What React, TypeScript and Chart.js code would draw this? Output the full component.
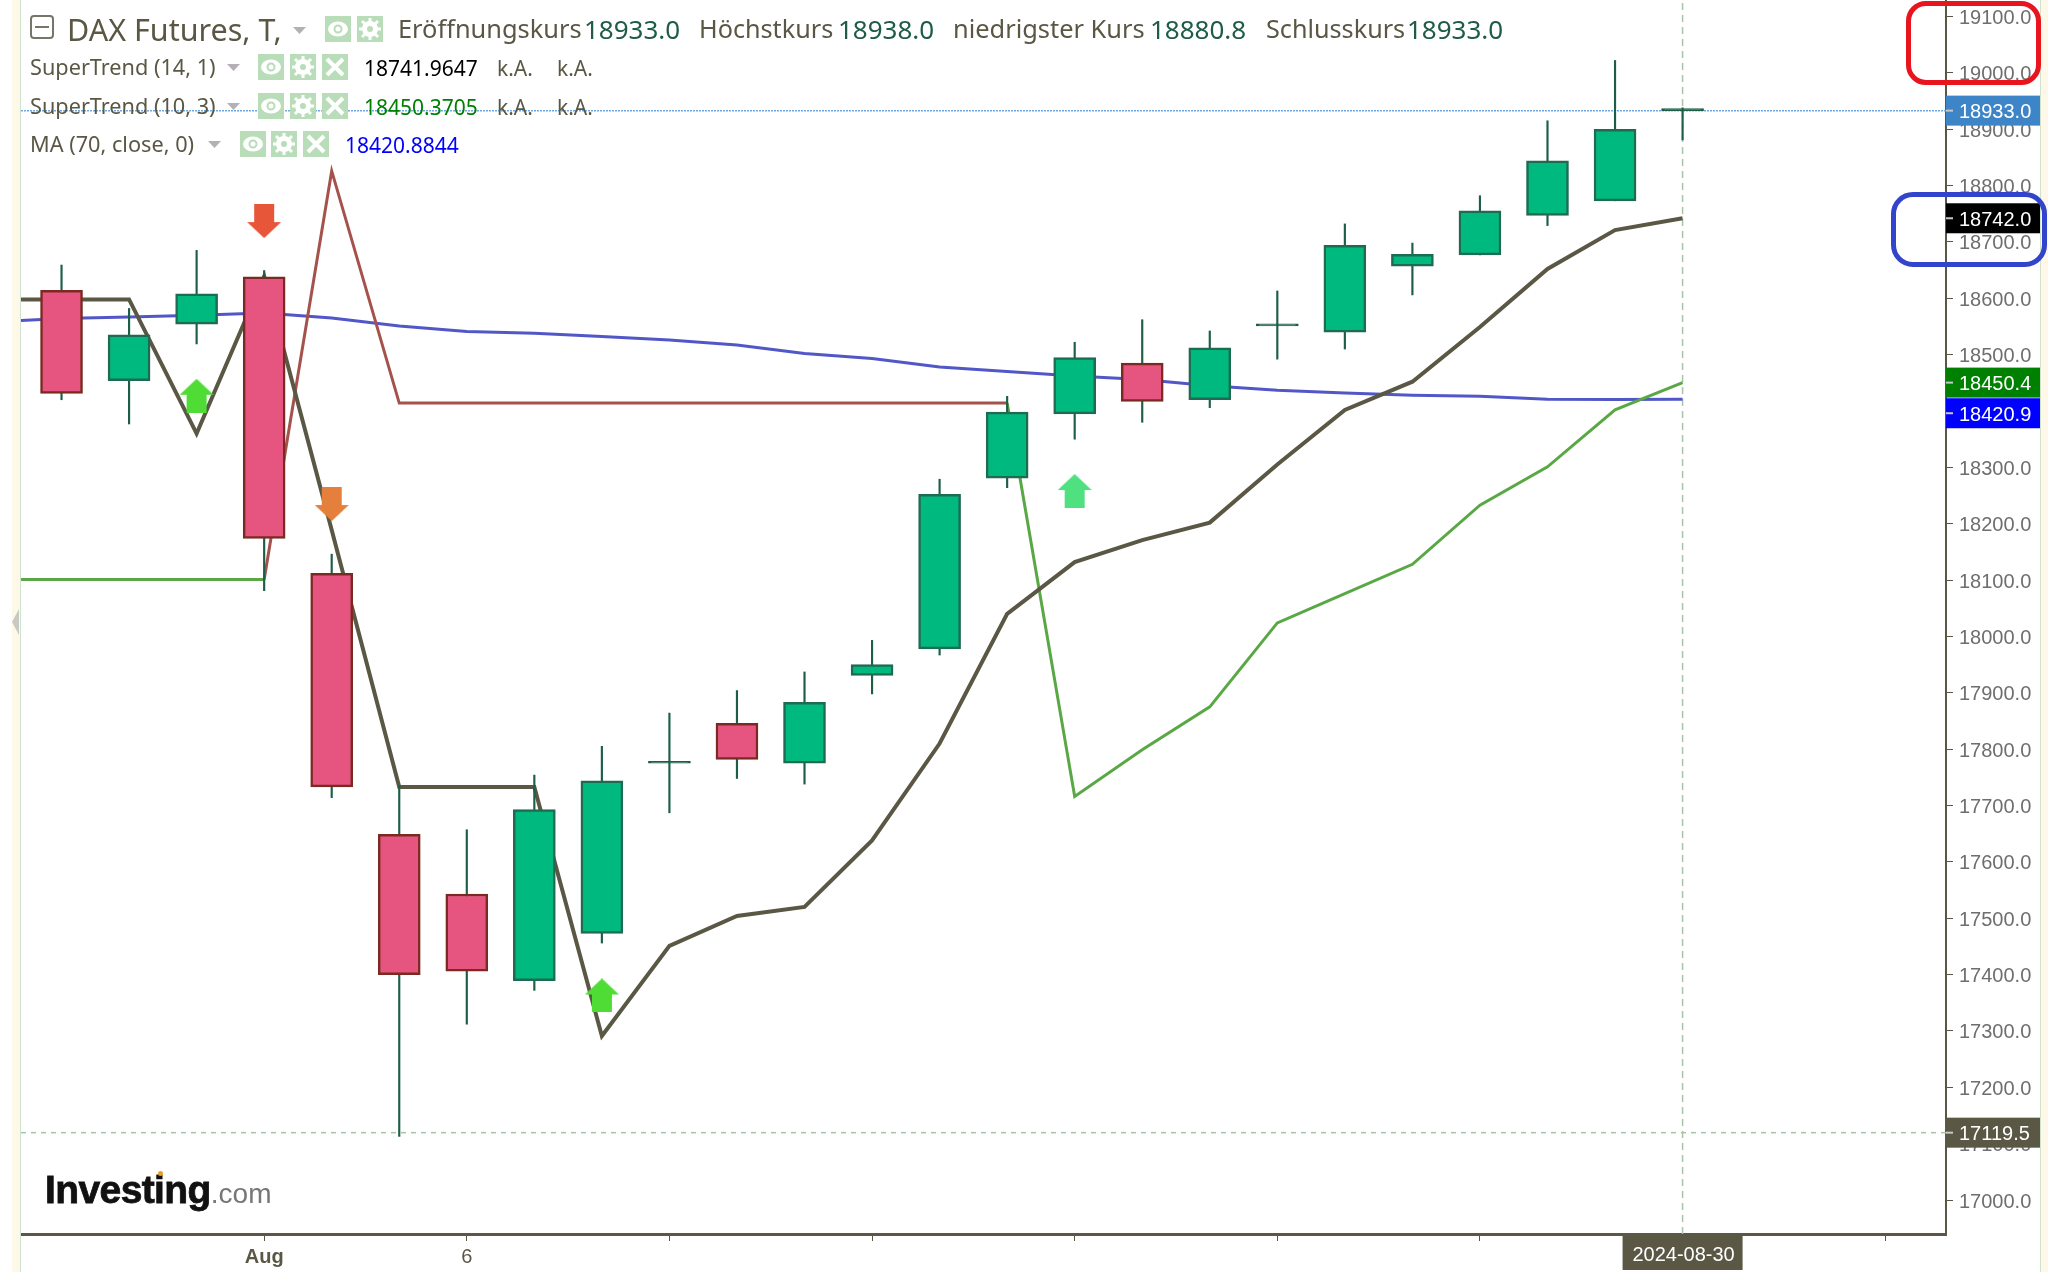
import { useEffect, useRef } from 'react';
import { Chart, registerables } from 'chart.js';

Chart.register(...registerables);

// candles, x = trading day index
const opens = [18614, 18454, 18554, 18638, 18112, 17649, 17543, 17389, 17473, 17775, 17846, 17775, 17931, 17978, 18281, 18395, 18485, 18420, 18551, 18540, 18657, 18677, 18747, 18773, 18933];
const closes = [18431, 18535, 18608, 18174, 17733, 17400, 17406, 17693, 17744, 17777, 17782, 17883, 17950, 18252, 18398, 18495, 18417, 18512, 18552, 18694, 18678, 18755, 18844, 18900, 18933];
const highs = [18659, 18582, 18685, 18649, 18146, 17735, 17657, 17754, 17805, 17864, 17904, 17937, 17993, 18279, 18426, 18522, 18562, 18542, 18613, 18732, 18698, 18782, 18915, 19022, 18938];
const lows = [18420, 18377, 18519, 18081, 17714, 17113, 17312, 17372, 17456, 17687, 17748, 17738, 17898, 17967, 18264, 18350, 18380, 18406, 18492, 18510, 18606, 18677, 18729, 18773, 18881];

// indicator lines start one day before the first candle so they run off the left edge
const lineDays = [-1, 0, 1, 2, 3, 4, 5, 6, 7, 8, 9, 10, 11, 12, 13, 14, 15, 16, 17, 18, 19, 20, 21, 22, 23, 24];
const superTrend141 = [18598, 18598, 18598, 18360, 18639, 18189, 17733, 17733, 17733, 17291, 17451, 17504, 17520, 17638, 17810, 18040, 18132, 18171, 18202, 18305, 18402, 18452, 18549, 18652, 18721, 18742];
const superTrend103 = [18101, 18101, 18101, 18101, 18101, 18826, 18414, 18414, 18414, 18414, 18414, 18414, 18414, 18414, 18414, 18414, 17716, 17799, 17875, 18024, 18076, 18128, 18233, 18301, 18402, 18450.4];
const movingAvg70 = [18558, 18564, 18567, 18570, 18574, 18565, 18551, 18541, 18538, 18532, 18526, 18517, 18502, 18493, 18478, 18470, 18462, 18456, 18445, 18437, 18432, 18428, 18426, 18421, 18420.5, 18420.9];

// signal arrows
const upArrowDays = [2, 8, 15];
const upArrowValues = [18427, 17363, 18258];
const upArrowColors = ['#4fdc35', '#4fdc35', '#4fe080'];
const downArrowDays = [3, 4];
const downArrowValues = [18737, 18235];
const downArrowColors = ['#e8563a', '#e4803c'];

const priceTicks = [17000, 17100, 17200, 17300, 17400, 17500, 17600, 17700, 17800, 17900, 18000, 18100, 18200, 18300, 18400, 18500, 18600, 18700, 18800, 18900, 19000, 19100];
const dayTicks = [3, 6, 9, 12, 15, 18, 21, 24, 27];
const dayTickLabels = ['Aug', '6', '', '', '', '', '', '', ''];

const lastPrice = 18933;
const lowPrice = 17119.5;
const lastDay = 24;
const yMin = 16939.7;
const yMax = 19129.3;
const xMin = -0.6;
const xMax = 27.9;

const OLIVE = '#5a5745';
const PINK = '#e6557f';
const PINK_EDGE = '#7a2a22';
const GREEN = '#00b97f';
const GREEN_EDGE = '#1f6b52';
const WICK = '#1d5e46';

function makeArrow(color: string, up: boolean) {
  const c = document.createElement('canvas');
  c.width = 34;
  c.height = 34;
  const g = c.getContext('2d')!;
  g.fillStyle = color;
  g.beginPath();
  if (up) {
    g.moveTo(17, 0);
    g.lineTo(34, 16);
    g.lineTo(27, 16);
    g.lineTo(27, 34);
    g.lineTo(7, 34);
    g.lineTo(7, 16);
    g.lineTo(0, 16);
  } else {
    g.moveTo(17, 34);
    g.lineTo(34, 18);
    g.lineTo(27, 18);
    g.lineTo(27, 0);
    g.lineTo(7, 0);
    g.lineTo(7, 18);
    g.lineTo(0, 18);
  }
  g.closePath();
  g.fill();
  return c;
}

const priceBadges = [
  { value: lastPrice, label: '18933.0', color: '#3d85c6', shift: 0 },
  { value: 18742, label: '18742.0', color: '#000000', shift: 0 },
  { value: 18450.4, label: '18450.4', color: '#008000', shift: 0 },
  { value: 18420.9, label: '18420.9', color: '#0000ff', shift: 14 },
  { value: lowPrice, label: '17119.5', color: OLIVE, shift: 0 },
];

const badgePlugin = {
  id: 'badges',
  afterDraw(chart: any) {
    const { ctx, scales } = chart;
    const y = scales.y;
    const x = scales.x;
    ctx.save();
    ctx.font = '20px "Liberation Sans"';
    ctx.textBaseline = 'middle';
    priceBadges.forEach((b) => {
      const py = y.getPixelForValue(b.value) + b.shift;
      ctx.fillStyle = b.color;
      ctx.fillRect(x.right, py - 15, 94, 30);
      ctx.fillStyle = '#c8c8c8';
      ctx.fillRect(x.right, py - 1, 7, 2);
      ctx.fillStyle = '#fff';
      ctx.textAlign = 'left';
      ctx.fillText(b.label, x.right + 13, py + 2);
    });
    const px = x.getPixelForValue(lastDay);
    ctx.fillStyle = OLIVE;
    ctx.fillRect(px - 60, y.bottom, 120, 36);
    ctx.fillStyle = '#fff';
    ctx.textAlign = 'center';
    ctx.fillText('2024-08-30', px + 1, y.bottom + 21);
    ctx.restore();
  },
};

function Txt({ x, y, size, color, children, family, weight }: any) {
  return (
    <div style={{ position: 'absolute', left: x, top: y, transform: 'translateY(-50%)', fontSize: size, color, whiteSpace: 'nowrap', lineHeight: 1, fontFamily: family || '"Noto Sans"', fontWeight: weight || 400 }}>
      {children}
    </div>
  );
}

function Icon({ x, y, kind }: { x: number; y: number; kind: string }) {
  return (
    <svg width="26" height="26" style={{ position: 'absolute', left: x, top: y }}>
      <rect width="26" height="26" fill="#b9dcb9" />
      {kind === 'eye' && <ellipse cx="13" cy="13" rx="10" ry="7.5" fill="#fff" />}
      {kind === 'eye' && <circle cx="13" cy="13" r="3.5" fill="#fff" stroke="#b9dcb9" strokeWidth="2" />}
      {kind === 'gear' && <circle cx="13" cy="13" r="6" fill="none" stroke="#fff" strokeWidth="4" />}
      {kind === 'gear' && <path d="M13 2v22M2 13h22M5 5l16 16M21 5L5 21" stroke="#fff" strokeWidth="3" />}
      {kind === 'gear' && <circle cx="13" cy="13" r="3" fill="#b9dcb9" />}
      {kind === 'x' && <path d="M5 5l16 16M21 5L5 21" stroke="#fff" strokeWidth="4" />}
    </svg>
  );
}

function Caret({ x, y }: { x: number; y: number }) {
  return (
    <svg width="13" height="7" style={{ position: 'absolute', left: x, top: y }}>
      <path d="M0 0h13L6.5 7z" fill="#b5b0b5" />
    </svg>
  );
}

export default function App() {
  const chartRef = useRef<HTMLCanvasElement>(null);

  useEffect(() => {
    document.body.style.margin = '0';
    if (!chartRef.current) return;
    const isUp = (i: number) => closes[i] >= opens[i];
    const candleDays = opens.map((_, i) => i);

    const upIcons = upArrowColors.map((c) => makeArrow(c, true));
    const downIcons = downArrowColors.map((c) => makeArrow(c, false));

    const chart = new Chart(chartRef.current, {
      type: 'bar',
      plugins: [badgePlugin],
      data: {
        datasets: [
          {
            type: 'scatter',
            label: 'up',
            order: 0,
            data: upArrowDays.map((d, i) => ({ x: d, y: upArrowValues[i] })),
            pointStyle: upIcons,
            clip: false,
          },
          {
            type: 'scatter',
            label: 'down',
            order: 0,
            data: downArrowDays.map((d, i) => ({ x: d, y: downArrowValues[i] })),
            pointStyle: downIcons,
            clip: false,
          },
          {
            label: 'bodies',
            order: 1,
            grouped: false,
            barThickness: 42,
            minBarLength: 2,
            borderWidth: 2.5,
            borderSkipped: false,
            data: candleDays.map((d) => ({ x: d, y: [opens[d], closes[d]] })),
            backgroundColor: candleDays.map((d) => (Math.abs(closes[d] - opens[d]) < 3 ? WICK : isUp(d) ? GREEN : PINK)),
            borderColor: candleDays.map((d) => (Math.abs(closes[d] - opens[d]) < 3 ? WICK : isUp(d) ? GREEN_EDGE : PINK_EDGE)),
          },
          {
            label: 'wicks',
            order: 2,
            grouped: false,
            barThickness: 1.5,
            backgroundColor: WICK,
            data: candleDays.map((d) => ({ x: d, y: [lows[d], highs[d]] })),
          },
          {
            type: 'line',
            label: 'SuperTrend (14, 1)',
            order: 3,
            data: lineDays.map((d, i) => ({ x: d, y: superTrend141[i] })),
            borderColor: OLIVE,
            borderWidth: 4,
            pointRadius: 0,
          },
          {
            type: 'line',
            label: 'SuperTrend (10, 3)',
            order: 3,
            data: lineDays.map((d, i) => ({ x: d, y: superTrend103[i] })),
            borderColor: '#5aa845',
            borderWidth: 3,
            pointRadius: 0,
            segment: {
              borderColor: (ctx: any) => (ctx.p0DataIndex >= 4 && ctx.p0DataIndex < 15 ? '#a5524c' : '#5aa845'),
            },
          },
          {
            type: 'line',
            label: 'MA (70, close, 0)',
            order: 4,
            data: lineDays.map((d, i) => ({ x: d, y: movingAvg70[i] })),
            borderColor: '#5257c8',
            borderWidth: 3,
            pointRadius: 0,
          },
          {
            type: 'line',
            label: 'last',
            order: 5,
            data: [{ x: xMin, y: lastPrice }, { x: xMax, y: lastPrice }],
            borderColor: '#6fa8dc',
            borderWidth: 1.5,
            borderDash: [2, 1],
            pointRadius: 0,
          },
          {
            type: 'line',
            label: 'low',
            order: 5,
            data: [{ x: xMin, y: lowPrice }, { x: xMax, y: lowPrice }],
            borderColor: '#a8c4a8',
            borderWidth: 1.5,
            borderDash: [5, 5],
            pointRadius: 0,
          },
          {
            type: 'line',
            label: 'cross',
            order: 5,
            data: [{ x: lastDay, y: yMin }, { x: lastDay, y: yMax }],
            borderColor: '#a8c4a8',
            borderWidth: 1.5,
            borderDash: [7, 5],
            pointRadius: 0,
          },
        ] as any,
      },
      options: {
        responsive: false,
        devicePixelRatio: 1,
        animation: false,
        layout: { autoPadding: false, padding: { left: 21, top: 0, right: 0, bottom: 0 } },
        plugins: { legend: { display: false }, tooltip: { enabled: false }, title: { display: false } },
        scales: {
          x: {
            type: 'linear',
            offset: false,
            min: xMin,
            max: xMax,
            afterBuildTicks: (scale: any) => {
              scale.ticks = dayTicks.map((value) => ({ value }));
            },
            afterFit: (scale: any) => {
              scale.height = 38;
              scale.paddingLeft = 0;
              scale.paddingRight = 0;
            },
            grid: { drawOnChartArea: false, drawTicks: true, tickLength: 7, tickColor: OLIVE, offset: false },
            border: { display: true, color: OLIVE, width: 3 },
            ticks: {
              autoSkip: false,
              maxRotation: 0,
              padding: 4,
              color: OLIVE,
              font: (ctx: any) => ({ family: '"Liberation Sans"', size: 20, weight: ctx.index === 0 ? 'bold' : 'normal' }),
              callback: (value: any) => dayTickLabels[dayTicks.indexOf(Number(value))] ?? '',
            },
          },
          y: {
            type: 'linear',
            position: 'right',
            min: yMin,
            max: yMax,
            afterBuildTicks: (scale: any) => {
              scale.ticks = priceTicks.map((value) => ({ value }));
            },
            afterFit: (scale: any) => {
              scale.width = 102;
              scale.paddingTop = 0;
              scale.paddingBottom = 0;
            },
            grid: { drawOnChartArea: false, drawTicks: true, tickLength: 7, tickColor: OLIVE },
            border: { display: true, color: OLIVE, width: 2 },
            ticks: {
              autoSkip: false,
              padding: 6,
              labelOffset: 2,
              color: '#6e6e6e',
              font: { family: '"Liberation Sans"', size: 20 },
              callback: (value: any) => Number(value).toFixed(1),
            },
          },
        },
      },
    } as any);

    return () => {
      chart.destroy();
    };
  }, []);

  return (
    <div style={{ position: 'relative', width: 2048, height: 1272, overflow: 'hidden', background: '#fff' }}>
      <canvas ref={chartRef} width={2048} height={1272} style={{ position: 'absolute', left: 0, top: 0 }}></canvas>

      {/* page edges around the chart */}
      <div style={{ position: 'absolute', left: 12, top: 0, width: 8, height: 1272, background: '#fdf8e8', borderRight: '1px solid #cfe3cf' }} />
      <div style={{ position: 'absolute', left: 2040, top: 0, width: 8, height: 1272, background: '#fdf8e8', borderLeft: '1px solid #cfe3cf', boxSizing: 'border-box' }} />
      <svg width="8" height="26" style={{ position: 'absolute', left: 11, top: 609 }}>
        <path d="M8 0L1 13l7 13z" fill="#c9c9c4" />
      </svg>

      {/* header legend */}
      <div style={{ position: 'absolute', left: 30, top: 15, width: 24, height: 24, border: '2px solid #77756a', borderRadius: 4, boxSizing: 'border-box' }}>
        <div style={{ position: 'absolute', left: 3, right: 3, top: 9, height: 2, background: '#77756a' }} />
      </div>
      <Txt x={67} y={29} size={30.5} color={OLIVE}>DAX Futures, T,</Txt>
      <Caret x={293} y={27} />
      <Icon x={325} y={16} kind="eye" />
      <Icon x={357} y={16} kind="gear" />
      <Txt x={398} y={29} size={25.4} color={OLIVE}>Eröffnungskurs</Txt>
      <Txt x={584} y={29} size={26} color="#1e5c45">18933.0</Txt>
      <Txt x={699} y={29} size={25.2} color={OLIVE}>Höchstkurs</Txt>
      <Txt x={838} y={29} size={26} color="#1e5c45">18938.0</Txt>
      <Txt x={953} y={29} size={25.4} color={OLIVE}>niedrigster Kurs</Txt>
      <Txt x={1150} y={29} size={26} color="#1e5c45">18880.8</Txt>
      <Txt x={1266} y={29} size={25.2} color={OLIVE}>Schlusskurs</Txt>
      <Txt x={1407} y={29} size={26} color="#1e5c45">18933.0</Txt>

      <Txt x={30} y={67} size={21.7} color={OLIVE}>SuperTrend (14, 1)</Txt>
      <Caret x={227} y={64} />
      <Icon x={258} y={54} kind="eye" />
      <Icon x={290} y={54} kind="gear" />
      <Icon x={322} y={54} kind="x" />
      <Txt x={364} y={68} size={21} color="#000">18741.9647</Txt>
      <Txt x={497} y={68} size={21} color={OLIVE}>k.A.</Txt>
      <Txt x={557} y={68} size={21} color={OLIVE}>k.A.</Txt>

      <Txt x={30} y={106} size={21.7} color={OLIVE}>SuperTrend (10, 3)</Txt>
      <Caret x={227} y={103} />
      <Icon x={258} y={93} kind="eye" />
      <Icon x={290} y={93} kind="gear" />
      <Icon x={322} y={93} kind="x" />
      <Txt x={364} y={107} size={21} color="#008000">18450.3705</Txt>
      <Txt x={497} y={107} size={21} color={OLIVE}>k.A.</Txt>
      <Txt x={557} y={107} size={21} color={OLIVE}>k.A.</Txt>

      <Txt x={30} y={144} size={21.7} color={OLIVE}>MA (70, close, 0)</Txt>
      <Caret x={208} y={141} />
      <Icon x={240} y={131} kind="eye" />
      <Icon x={271} y={131} kind="gear" />
      <Icon x={303} y={131} kind="x" />
      <Txt x={345} y={145} size={21} color="#0000ff">18420.8844</Txt>

      {/* logo */}
      <div style={{ position: 'absolute', left: 45, top: 1168, lineHeight: '44px', whiteSpace: 'nowrap', fontFamily: '"Liberation Sans"' }}>
        <span style={{ fontSize: 39, fontWeight: 700, color: '#111', letterSpacing: -0.6, WebkitTextStroke: '0.8px #111' }}>Investing</span>
        <span style={{ fontSize: 28, color: '#777' }}>.com</span>
      </div>
      <div style={{ position: 'absolute', left: 158, top: 1171, width: 5, height: 5, borderRadius: 3, background: '#e8a020' }} />

      {/* hand drawn highlights on the axis */}
      <div style={{ position: 'absolute', left: 1906, top: 1, width: 135, height: 84, border: '5px solid #e8141e', borderRadius: 20, boxSizing: 'border-box' }} />
      <div style={{ position: 'absolute', left: 1891, top: 192, width: 156, height: 75, border: '5px solid #3344cc', borderRadius: 22, boxSizing: 'border-box' }} />
    </div>
  );
}
